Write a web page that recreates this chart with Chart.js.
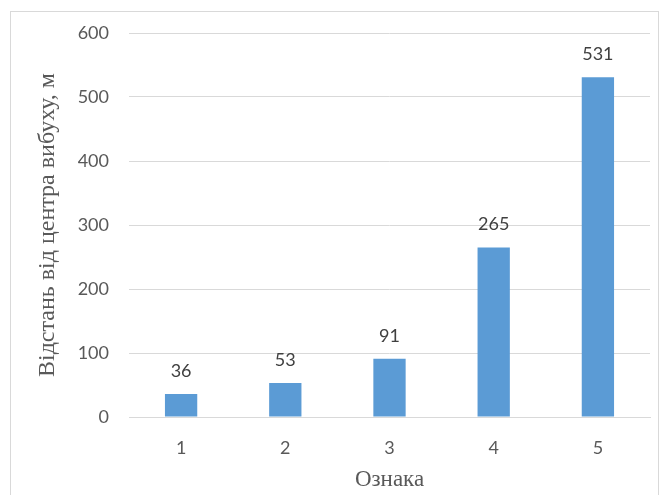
<!DOCTYPE html>
<html>
<head>
<meta charset="utf-8">
<script src="https://cdn.jsdelivr.net/npm/chart.js@4/dist/chart.umd.min.js"></script>
<style>
  html, body { margin: 0; padding: 0; background: #ffffff; }
  #wrap { width: 665px; height: 495px; position: relative; }
</style>
</head>
<body>
<div id="wrap"><canvas id="chart" width="665" height="495"></canvas></div>
<script>
// Categories (feature number) and distance from the blast centre, m
const categories = ['1', '2', '3', '4', '5'];
const distances = [36, 53, 91, 265, 531];
const yTicks = [0, 100, 200, 300, 400, 500, 600];
const xTitle = 'Ознака';
const yTitle = 'Відстань від центра вибуху, м';

const tickFont = { family: 'Lato, "Open Sans", sans-serif', size: 18 };
const textColor = '#595959';

// Light frame around the chart
const framePlugin = {
  id: 'frame',
  beforeDraw(chart) {
    const ctx = chart.ctx;
    ctx.save();
    ctx.fillStyle = '#ffffff';
    ctx.fillRect(0, 0, chart.width, chart.height);
    ctx.strokeStyle = '#d9d9d9';
    ctx.lineWidth = 1;
    ctx.strokeRect(10.5, 11.5, 648, 500);
    ctx.restore();
  }
};

// Value labels above each bar
const valueLabels = {
  id: 'valueLabels',
  afterDatasetsDraw(chart) {
    const ctx = chart.ctx;
    const meta = chart.getDatasetMeta(0);
    ctx.save();
    ctx.font = '18px Lato, "Open Sans", sans-serif';
    ctx.fillStyle = '#404040';
    ctx.textAlign = 'center';
    ctx.textBaseline = 'bottom';
    meta.data.forEach((bar, i) => {
      ctx.fillText(String(chart.data.datasets[0].data[i]), bar.x, bar.y - 14);
    });
    ctx.restore();
  }
};

new Chart(document.getElementById('chart'), {
  type: 'bar',
  data: {
    labels: categories,
    datasets: [{
      data: distances,
      backgroundColor: '#5b9bd5',
      borderWidth: 0,
      barPercentage: 0.31,
      categoryPercentage: 1.0
    }]
  },
  options: {
    responsive: false,
    animation: false,
    devicePixelRatio: 1,
    layout: { padding: { top: 33, right: 15, left: 0, bottom: 0 } },
    plugins: {
      legend: { display: false },
      tooltip: { enabled: false },
      title: { display: false }
    },
    scales: {
      x: {
        grid: { display: false, drawTicks: false },
        border: { display: true, color: '#d9d9d9', width: 1 },
        ticks: { color: textColor, font: tickFont, padding: 20 },
        title: {
          display: true,
          text: xTitle,
          color: textColor,
          font: { family: '"Liberation Serif", "Times New Roman", serif', size: 23 },
          padding: { top: 0, bottom: 1 }
        },
        afterFit(scale) { scale.height = 78; }
      },
      y: {
        min: 0,
        max: 600,
        afterBuildTicks(scale) { scale.ticks = yTicks.map(v => ({ value: v })); },
        grid: { color: '#d9d9d9', drawTicks: false },
        border: { display: false },
        ticks: { color: textColor, font: tickFont, padding: 20 },
        title: {
          display: true,
          text: yTitle,
          color: textColor,
          font: { family: '"Liberation Serif", "Times New Roman", serif', size: 24 },
          padding: { top: 33, bottom: 0 }
        },
        afterFit(scale) { scale.width = 129; }
      }
    }
  },
  plugins: [framePlugin, valueLabels]
});
</script>
</body>
</html>
